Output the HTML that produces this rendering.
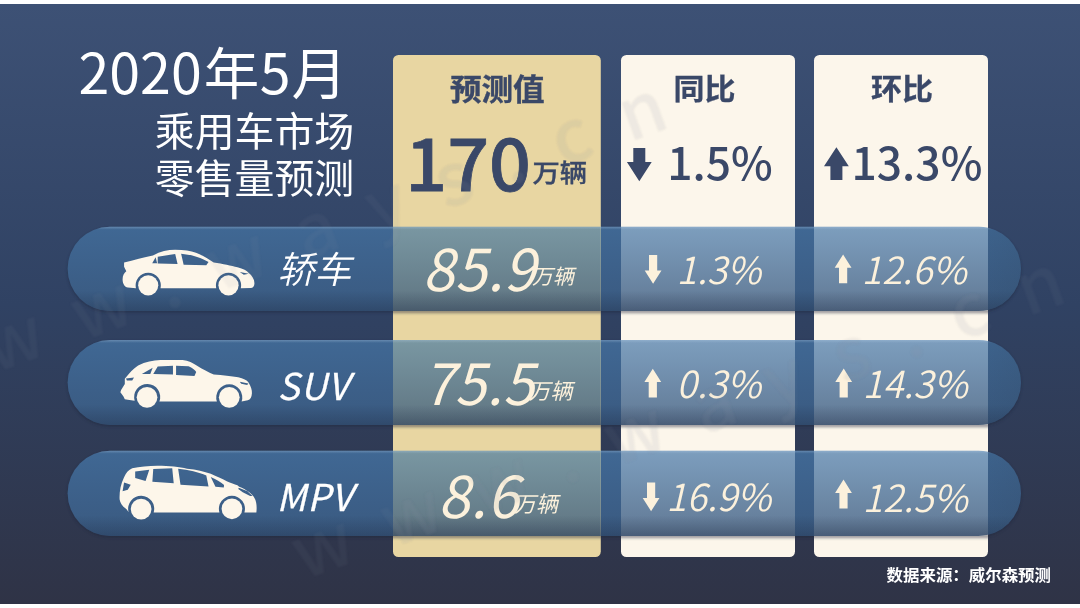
<!DOCTYPE html>
<html lang="zh-CN">
<head>
<meta charset="utf-8">
<title>2020年5月 乘用车市场零售量预测</title>
<style>
html,body{margin:0;padding:0;background:#fff;}
body{width:1080px;height:608px;overflow:hidden;font-family:"Noto Sans CJK SC","Liberation Sans",sans-serif;}
svg{display:block;position:absolute;left:0;top:0;}
text{font-family:"Noto Sans CJK SC","Liberation Sans",sans-serif;}
.navy{fill:#3a4868;}
.cream{fill:#fcf1dc;}
.white{fill:#ffffff;}
.wm text{fill:#8c94a4;font-size:72px;font-weight:500;letter-spacing:34.5px;}
</style>
</head>
<body>
<svg width="1080" height="608" viewBox="0 0 1080 608">
<defs>
  <linearGradient id="bg" x1="0" y1="0" x2="0" y2="1">
    <stop offset="0" stop-color="#3d5175"/>
    <stop offset="0.5" stop-color="#304263"/>
    <stop offset="1" stop-color="#2f3346"/>
  </linearGradient>
  <linearGradient id="pill" x1="0" y1="0" x2="0" y2="1">
    <stop offset="0" stop-color="#4678aa" stop-opacity="0.70"/>
    <stop offset="1" stop-color="#3c5a7e" stop-opacity="0.81"/>
  </linearGradient>
  <linearGradient id="pillg" x1="0" y1="0" x2="0" y2="1">
    <stop offset="0" stop-color="#4a7ca2" stop-opacity="0.70"/>
    <stop offset="1" stop-color="#3e5c78" stop-opacity="0.81"/>
  </linearGradient>
  <linearGradient id="pillsolid" x1="0" y1="0" x2="0" y2="1">
    <stop offset="0" stop-color="#406894"/>
    <stop offset="0.6" stop-color="#3c5f88"/>
    <stop offset="1" stop-color="#3a5a80"/>
  </linearGradient>
  <clipPath id="cols">
    <rect x="393" y="55" width="207.8" height="502" rx="5.5"/>
    <rect x="621" y="55" width="174" height="502" rx="5.5"/>
    <rect x="814" y="55" width="174" height="502" rx="5.5"/>
  </clipPath>
  <clipPath id="colG"><rect x="393" y="55" width="207.8" height="502" rx="5.5"/></clipPath>
  <clipPath id="colC">
    <rect x="621" y="55" width="174" height="502" rx="5.5"/>
    <rect x="814" y="55" width="174" height="502" rx="5.5"/>
  </clipPath>
  <!-- arrows: big -->
  <path id="arrB" d="M-6,0 H6 V14 H12.4 L0,33.2 L-12.4,14 H-6 Z"/>
  <!-- arrows: small (pointing up, origin top centre) -->
  <path id="arrS" d="M0,0 L8.4,13.3 H4.1 V28.8 H-4.1 V13.3 H-8.4 Z"/>
  <filter id="soft" x="-5%" y="-5%" width="110%" height="110%"><feGaussianBlur stdDeviation="0.9"/></filter>
  <g id="pillshapes">
    <rect x="67.6" y="226.7" width="953.4" height="84.3" rx="42.15"/>
    <rect x="67.6" y="340" width="953.4" height="85" rx="42.5"/>
    <rect x="67.6" y="450.7" width="953.4" height="85.2" rx="42.6"/>
  </g>
  <clipPath id="pillclip">
    <rect x="67.6" y="226.7" width="953.4" height="84.3" rx="42.15"/>
    <rect x="67.6" y="340" width="953.4" height="85" rx="42.5"/>
    <rect x="67.6" y="450.7" width="953.4" height="85.2" rx="42.6"/>
  </clipPath>
  <linearGradient id="edge" x1="0" y1="0" x2="0" y2="1">
    <stop offset="0" stop-color="#bcd6ee" stop-opacity="0.30"/>
    <stop offset="0.035" stop-color="#bcd6ee" stop-opacity="0"/>
    <stop offset="0.76" stop-color="#1c2a44" stop-opacity="0"/>
    <stop offset="1" stop-color="#1c2a44" stop-opacity="0.34"/>
  </linearGradient>
  <linearGradient id="rfade" gradientUnits="userSpaceOnUse" x1="930" y1="0" x2="1021" y2="0">
    <stop offset="0" stop-color="#2c4058" stop-opacity="0"/>
    <stop offset="1" stop-color="#2c4058" stop-opacity="0.22"/>
  </linearGradient>
  <filter id="ds" x="-2%" y="-10%" width="104%" height="125%"><feGaussianBlur stdDeviation="1.4"/></filter>
</defs>

<!-- background -->
<rect x="0" y="0" width="1080" height="608" fill="#ffffff"/>
<rect x="0" y="4" width="1080" height="600" fill="url(#bg)"/>

<!-- title -->
<text class="white" x="78.5" y="94" font-size="55.5" font-weight="400">2020<tspan dx="2">年</tspan><tspan dx="0.5">5</tspan><tspan dx="1">月</tspan></text>
<text class="white" x="154.8" y="146.2" font-size="39.9" font-weight="400">乘用车市场</text>
<text class="white" x="154.8" y="192.8" font-size="39.9" font-weight="400">零售量预测</text>

<!-- pills -->
<use href="#pillshapes" fill="#1a2238" opacity="0.45" transform="translate(0,1.6)" filter="url(#ds)"/>
<use href="#pillshapes" fill="url(#pillsolid)"/>
<use href="#pillshapes" fill="url(#edge)"/>
<rect x="930" y="220" width="95" height="320" fill="url(#rfade)" clip-path="url(#pillclip)"/>

<!-- columns -->
<rect x="393" y="55" width="207.8" height="502" rx="5.5" fill="#e8d6a2"/>
<rect x="621" y="55" width="174" height="502" rx="5.5" fill="#fcf6eb"/>
<rect x="814" y="55" width="174" height="502" rx="5.5" fill="#fcf6eb"/>

<!-- translucent pill overlay on columns -->
<g clip-path="url(#cols)">
  <g opacity="0.5" filter="url(#ds)" fill="#1a2238">
    <rect x="380" y="309.6" width="620" height="3.4"/>
    <rect x="380" y="423.6" width="620" height="3.4"/>
    <rect x="380" y="534.5" width="620" height="3.4"/>
  </g>
  <g clip-path="url(#pillclip)">
    <rect x="393" y="55" width="207.8" height="502" fill="#e8d6a2"/>
    <rect x="621" y="55" width="174" height="502" fill="#fcf6eb"/>
    <rect x="814" y="55" width="174" height="502" fill="#fcf6eb"/>
  </g>
</g>
<g clip-path="url(#colG)">
  <use href="#pillshapes" fill="url(#pillg)"/>
  <use href="#pillshapes" fill="url(#edge)"/>
</g>
<g clip-path="url(#colC)">
  <use href="#pillshapes" fill="url(#pill)"/>
  <use href="#pillshapes" fill="url(#edge)"/>
</g>

<!-- column headers -->
<text class="navy" transform="translate(497.3,99.9) scale(1,0.93)" font-size="31.6" font-weight="700" text-anchor="middle" stroke="#3a4868" stroke-width="0.4">预测值</text>
<text class="navy" transform="translate(704.5,99.7) scale(1,0.94)" font-size="31" font-weight="700" text-anchor="middle" stroke="#3a4868" stroke-width="0.3">同比</text>
<text class="navy" transform="translate(902,99.7) scale(1,0.94)" font-size="31" font-weight="700" text-anchor="middle" stroke="#3a4868" stroke-width="0.3">环比</text>

<!-- column totals -->
<text class="navy" transform="translate(405.3,191) scale(1,0.965)" font-size="73.5" font-weight="500" stroke="#3a4868" stroke-width="0.8">170</text>
<text class="navy" transform="translate(532.4,181.9) scale(1,0.92)" font-size="27.3" font-weight="500" stroke="#3a4868" stroke-width="0.4">万辆</text>
<use href="#arrB" class="navy" transform="translate(639.3,148)"/>
<text class="navy" x="667.2" y="179.6" font-size="44.4" font-weight="500">1.5%</text>
<use href="#arrB" class="navy" transform="translate(836.4,180) scale(1,-0.985)"/>
<text class="navy" x="851.5" y="179.6" font-size="44.4" font-weight="500">13.3%</text>

<!-- car icons -->
<g fill="#fdf6ea" fill-rule="evenodd">
  <!-- sedan -->
  <g transform="translate(110,235) scale(0.148148)">
    <path d="M95,185 C160,170 230,150 290,138 C340,112 390,100 440,100 C500,100 545,108 580,120 C630,140 670,165 700,185 C760,195 820,205 860,218 C900,228 925,240 935,255 C960,275 975,300 975,325 C975,345 965,356 950,358 L882.8,359 A85,85 0 1 0 717.2,359 L340.8,359 A85,85 0 1 0 175.2,359 L120,354 C100,350 85,330 85,300 C85,275 95,255 110,245 L95,215 Z
    M285,190 L308,150 L318,190 Z
    M322,146 L440,128 L456,196 L322,192 Z
    M480,126 C560,133 620,158 665,182 L650,205 L497,200 Z
    M876,250 L937,262 L903,268 Z"/>
    <circle cx="258" cy="340" r="68"/><circle cx="800" cy="340" r="68"/>
  </g>
  <!-- suv -->
  <g transform="translate(110,347) scale(0.148148)">
    <path d="M100,215 C130,175 160,145 190,125 C240,100 290,90 340,88 L490,88 C530,92 560,108 585,125 C625,150 665,172 700,185 C760,190 820,196 865,205 C900,212 925,225 935,240 C950,265 960,290 958,312 C956,340 948,355 930,360 L888.4,368 A88,88 0 1 0 721.6,368 L333.4,368 A88,88 0 1 0 166.6,362 L120,356 L100,352 L90,332 L70,305 L75,290 L100,250 Z
    M215,182 L288,140 L272,182 Z
    M292,182 L322,132 L425,126 L425,186 Z
    M446,126 L530,130 C555,140 575,155 582,168 L570,195 L446,189 Z
    M108,212 L162,206 L150,226 L114,226 Z
    M876,234 L934,246 L926,256 L886,248 Z"/>
    <circle cx="250" cy="340" r="70"/><circle cx="805" cy="340" r="70"/>
  </g>
  <!-- mpv -->
  <g transform="translate(110,455) scale(0.148148)">
    <path d="M65,300 C62,260 70,200 95,150 C110,120 125,100 150,90 C200,78 260,72 320,72 C400,72 470,80 520,92 C585,98 635,110 680,127 C720,144 755,161 788,177 C815,189 840,197 860,204 L872,214 C920,233 960,260 975,290 C990,315 992,350 988,388 L907.4,388 A88,88 0 1 0 738.6,388 L294.9,388 A88,88 0 1 0 125.1,385 L110,365 C80,345 68,320 65,300 Z
    M170,112 L265,100 L240,176 L170,156 Z
    M292,95 L420,90 L430,190 L286,180 Z
    M460,92 C530,98 600,115 650,138 L665,212 L476,200 Z
    M680,148 C720,165 750,185 770,203 L768,220 L712,214 Z
    M95,185 L140,200 L120,235 L85,245 Z
    M869,221 L928,245 L962,277 L946,277 L896,251 L866,230 Z"/>
    <circle cx="210" cy="365" r="70"/><circle cx="823" cy="363" r="70"/>
  </g>
</g>

<!-- row labels -->
<g class="white" font-size="37" font-weight="400">
  <text transform="translate(277.5,283) skewX(-13)" font-weight="350">轿车</text>
  <text transform="translate(277.5,399.5) skewX(-13)" font-weight="400" letter-spacing="0.9" stroke="#fff" stroke-width="0.25">SUV</text>
  <text transform="translate(276.5,511) skewX(-13)" font-weight="400" letter-spacing="0.6" stroke="#fff" stroke-width="0.25">MPV</text>
</g>

<!-- row values -->
<g class="cream" font-weight="400">
  <text transform="translate(422.5,291.3) skewX(-13)" font-size="57.5" letter-spacing="0.5">85.9</text>
  <text transform="translate(532,284) skewX(-13)" font-size="21">万辆</text>
  <text transform="translate(423,404.7) skewX(-13)" font-size="56.5" letter-spacing="0.5">75.5</text>
  <text transform="translate(528.5,398.5) skewX(-13)" font-size="22">万辆</text>
  <text transform="translate(438,517.8) skewX(-13)" font-size="57.5" letter-spacing="0.5">8.6</text>
  <text transform="translate(514,511.5) skewX(-13)" font-size="22">万辆</text>
</g>

<g class="cream" font-size="37.1" font-weight="350">
  <use href="#arrS" transform="translate(653.1,283.7) scale(1,-1)"/>
  <text transform="translate(676.6,283.5) skewX(-13)">1.3%</text>
  <use href="#arrS" transform="translate(843.1,254.4)"/>
  <text transform="translate(861.6,283.5) skewX(-13)">12.6%</text>

  <use href="#arrS" transform="translate(652.8,368.8)"/>
  <text transform="translate(676.6,397.5) skewX(-13)">0.3%</text>
  <use href="#arrS" transform="translate(843.7,368.6)"/>
  <text transform="translate(862.6,397.5) skewX(-13)">14.3%</text>

  <use href="#arrS" transform="translate(651.1,511.2) scale(1,-1)"/>
  <text transform="translate(666.2,511.3) skewX(-13)">16.9%</text>
  <use href="#arrS" transform="translate(843.5,479.6)"/>
  <text transform="translate(862.6,511.5) skewX(-13)">12.5%</text>
</g>

<!-- watermark -->
<g opacity="0.075" class="wm" filter="url(#soft)">
  <text transform="translate(-94.9,406) rotate(-20)">www.ways.cn</text>
  <text transform="translate(303.1,580.5) rotate(-20)">www.ways.cn</text>
</g>
<g clip-path="url(#cols)">
  <g opacity="0.05" class="wm" filter="url(#soft)">
    <text transform="translate(-94.9,406) rotate(-20)">www.ways.cn</text>
    <text transform="translate(303.1,580.5) rotate(-20)">www.ways.cn</text>
  </g>
</g>

<!-- source -->
<text class="white" x="886.6" y="580.5" font-size="16.45" font-weight="700">数据来源：威尔森预测</text>
</svg>
</body>
</html>
